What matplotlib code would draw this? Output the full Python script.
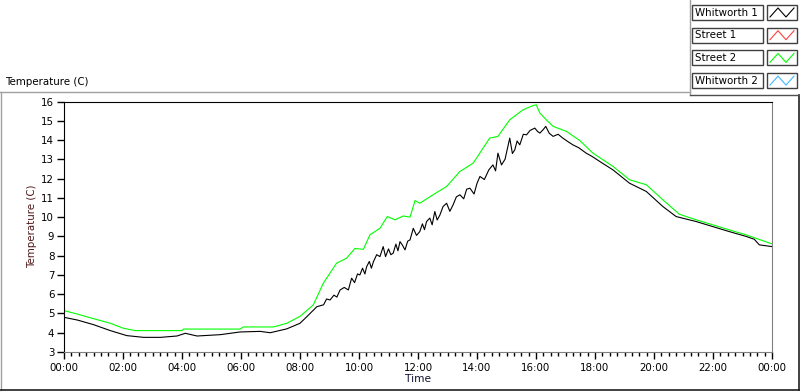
import matplotlib.pyplot as plt
import numpy as np
from matplotlib.lines import Line2D
from matplotlib.patches import Rectangle

# hours since midnight
street2_h = [0.0, 0.45, 1.0, 1.57, 2.02, 2.42, 4.0, 4.05, 5.97, 6.08, 7.1, 7.55, 8.0, 8.32,
             8.45, 8.79, 9.24, 9.58, 9.86, 10.15, 10.37, 10.71, 10.96, 11.22, 11.5, 11.73,
             11.9, 12.06, 12.51, 12.97, 13.42, 13.87, 14.43, 14.71, 15.11, 15.56, 15.9,
             16.01, 16.13, 16.35, 16.58, 17.03, 17.48, 17.93, 18.61, 19.17, 19.74, 20.3,
             20.86, 21.43, 21.99, 22.55, 23.12, 24.0]
street2_t = [5.15, 4.97, 4.73, 4.49, 4.23, 4.11, 4.11, 4.19, 4.19, 4.30, 4.30, 4.49, 4.85, 5.27,
             5.44, 6.57, 7.61, 7.87, 8.37, 8.33, 9.08, 9.42, 10.03, 9.86, 10.06, 10.0,
             10.86, 10.72, 11.16, 11.59, 12.37, 12.80, 14.1, 14.19, 15.05, 15.57, 15.79,
             15.83, 15.40, 15.05, 14.71, 14.45, 13.98, 13.32, 12.63, 11.94, 11.68, 10.90,
             10.15, 9.86, 9.60, 9.34, 9.08, 8.61]

whit1_h = [0.0, 0.45, 1.0, 1.57, 2.13, 2.7, 3.27, 3.83, 4.11, 4.51, 5.3, 5.97, 6.65, 6.99,
           7.55, 8.0, 8.23, 8.57, 8.8, 8.9, 9.02, 9.15, 9.25, 9.36, 9.5, 9.64, 9.75, 9.85,
           9.95, 10.03, 10.12, 10.2, 10.26, 10.35, 10.42, 10.49, 10.6, 10.71, 10.82,
           10.9, 11.0, 11.08, 11.16, 11.25, 11.32, 11.39, 11.47, 11.56, 11.65, 11.73,
           11.84, 11.95, 12.06, 12.15, 12.22, 12.29, 12.4, 12.48, 12.57, 12.65, 12.74,
           12.85, 12.97, 13.08, 13.19, 13.3, 13.42, 13.55, 13.65, 13.76, 13.9, 14.0,
           14.1, 14.25, 14.4, 14.54, 14.63, 14.71, 14.83, 14.95, 15.11, 15.2, 15.28,
           15.36, 15.45, 15.57, 15.68, 15.8, 15.96, 16.05, 16.13, 16.25, 16.33, 16.45,
           16.58, 16.75, 16.91, 17.05, 17.25, 17.45, 17.7, 17.9, 18.16, 18.61, 19.17,
           19.74, 20.3, 20.75, 21.43, 21.99, 22.55, 23.12, 23.4, 23.57, 24.0]
whit1_t = [4.80, 4.66, 4.42, 4.11, 3.85, 3.76, 3.76, 3.83, 3.97, 3.83, 3.90, 4.04, 4.07, 4.0,
           4.20, 4.49, 4.83, 5.35, 5.45, 5.75, 5.70, 5.95, 5.85, 6.22, 6.35, 6.22, 6.83, 6.6,
           7.05, 7.0, 7.35, 7.05, 7.43, 7.7, 7.35, 7.69, 8.05, 7.95, 8.47,
           7.95, 8.35, 8.05, 8.13, 8.6, 8.25, 8.73, 8.55, 8.30, 8.75, 8.82,
           9.42, 9.05, 9.25, 9.65, 9.35, 9.77, 9.95, 9.6, 10.29, 9.85, 10.1,
           10.55, 10.72, 10.3, 10.64, 11.05, 11.16, 10.95, 11.45, 11.50, 11.2, 11.75,
           12.11, 11.95, 12.45, 12.71, 12.4, 13.32, 12.71, 13.0, 14.1, 13.3, 13.49,
           13.95, 13.75, 14.3, 14.27, 14.5, 14.62, 14.45, 14.36, 14.55, 14.71, 14.35,
           14.19, 14.3, 14.1, 13.95, 13.75, 13.6, 13.32, 13.15, 12.89, 12.45, 11.76,
           11.33, 10.55, 10.03, 9.77, 9.51, 9.25, 9.0, 8.85, 8.56, 8.47]

street1_h, street1_t = [], []
whit2_h, whit2_t = [], []

names = ["Whitworth 1", "Street 1", "Street 2", "Whitworth 2"]
colors = ["#000000", "#ff4040", "#00ff00", "#40b8ff"]
y_ticks = list(range(3, 17))
x_ticks = list(range(0, 25, 2))
x_labels = ["%02d:00" % (h % 24) for h in x_ticks]

plt.rcParams['font.family'] = ['DejaVu Sans']
fs = 7.4
fig = plt.figure(figsize=(8, 3.92), dpi=100)
W, H = 800.0, 392.0

ax = fig.add_axes([64 / W, 1 - 352 / H, (772 - 64) / W, (352 - 101.5) / H])
ax.plot(whit1_h, whit1_t, color=colors[0], lw=0.8)
ax.plot(street1_h, street1_t, color=colors[1], lw=0.8)
ax.plot(street2_h, street2_t, color=colors[2], lw=0.8)
ax.plot(whit2_h, whit2_t, color=colors[3], lw=0.8)

ax.set_xlim(0, 24)
ax.set_ylim(3, 16)
ax.set_yticks(y_ticks)
ax.set_xticks(x_ticks)
ax.set_xticklabels(x_labels)
ax.set_xticks(np.arange(0, 24.01, 0.25), minor=True)
ax.tick_params(axis='both', labelsize=fs, direction='out', length=5, width=1, pad=2)
ax.tick_params(axis='x', which='minor', length=3, width=1)
ax.tick_params(axis='x', pad=3)
ax.spines['left'].set_color('black')
ax.spines['top'].set_color('black')
ax.spines['right'].set_color('#808080')
ax.spines['bottom'].set_color('#808080')
ax.set_ylabel("Temperature (C)", fontsize=fs, color="#501818", labelpad=3)
ax.set_xlabel("Time", fontsize=fs + 0.3, color="#101030", labelpad=1)

# outer panel frame
fig.add_artist(Line2D([0, 690 / W], [1 - 92 / H] * 2, color='#a0a0a0', lw=1))
fig.add_artist(Line2D([1 / W] * 2, [1 - 92 / H, 1 - 390 / H], color='#a0a0a0', lw=1))
fig.add_artist(Line2D([0, 1], [1 - 390 / H] * 2, color='#202020', lw=1.2))
fig.add_artist(Line2D([798.5 / W] * 2, [1 - 95 / H, 1 - 390 / H], color='#202020', lw=1.2))
fig.add_artist(Line2D([690 / W] * 2, [1, 1 - 95 / H], color='#a0a0a0', lw=1))
fig.add_artist(Line2D([690 / W, 1], [1 - 95 / H] * 2, color='#505050', lw=1))
fig.text(5 / W, 1 - 82 / H, "Temperature (C)", fontsize=fs, va='center', ha='left')

# legend in LabVIEW style
for i, (name, c) in enumerate(zip(names, colors)):
    top = 5 + i * 22.7
    fig.add_artist(Rectangle((692 / W, 1 - (top + 15) / H), 71 / W, 15 / H,
                             facecolor='white', edgecolor='#404040', lw=1))
    fig.text(695 / W, 1 - (top + 7.5) / H, name, fontsize=fs, va='center', ha='left')
    fig.add_artist(Rectangle((767 / W, 1 - (top + 15) / H), 30 / W, 15 / H,
                             facecolor='white', edgecolor='#404040', lw=1))
    zx = np.array([770, 778, 786, 794]) / W
    zy = 1 - (top + np.array([12, 3, 12, 3])) / H
    fig.add_artist(Line2D(zx, zy, color=c, lw=0.8))

fig.savefig("out.png", dpi=100)
